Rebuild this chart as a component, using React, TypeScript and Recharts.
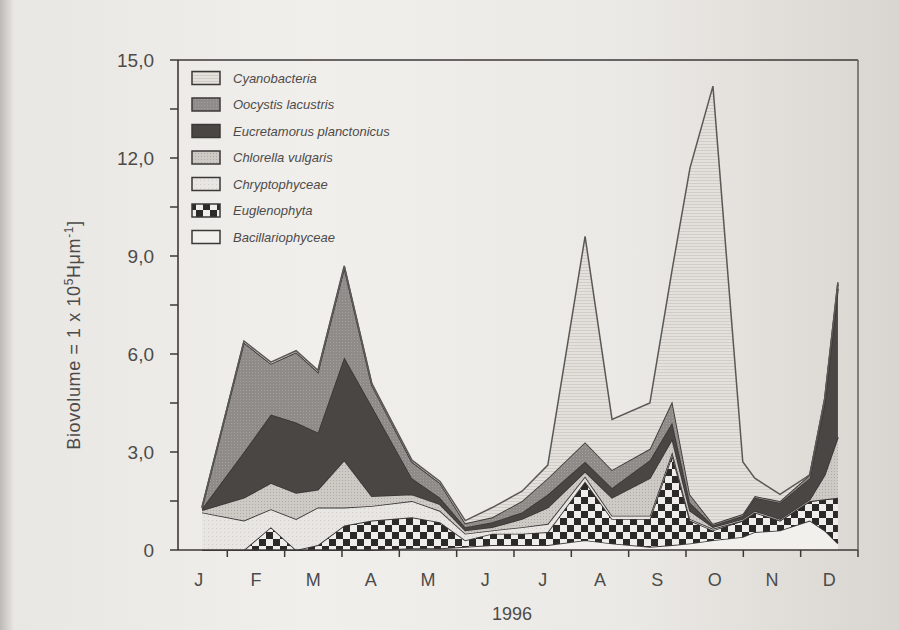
import React from 'react';
import { AreaChart, Area, XAxis, YAxis, ReferenceLine } from 'recharts';

const MONTHS = ['J', 'F', 'M', 'A', 'M', 'J', 'J', 'A', 'S', 'O', 'N', 'D'];

// sampling dates, in months from January (0 = J)
const SAMPLE_MONTH = [0.06, 0.79, 1.26, 1.7, 2.08, 2.54, 3.02, 3.72, 4.21, 4.65, 5.12, 5.64, 6.09, 6.74, 7.21, 7.87, 8.26, 8.57, 8.97, 9.49, 9.7, 10.14, 10.66, 10.92, 11.15];

// biovolume per group (stacked, bottom to top)
const BACILLARIO = [0, 0, 0, 0, 0, 0, 0, 0.05, 0.05, 0.1, 0.15, 0.15, 0.15, 0.3, 0.2, 0.1, 0.15, 0.2, 0.3, 0.4, 0.55, 0.6, 0.9, 0.6, 0.2];
const EUGLENO = [0, 0, 0.7, 0, 0.15, 0.75, 0.9, 0.95, 0.8, 0.2, 0.35, 0.35, 0.4, 1.8, 0.75, 0.85, 2.75, 0.7, 0.3, 0.5, 0.6, 0.3, 0.6, 0.95, 1.4];
const CHRYPTO = [1.15, 0.9, 0.55, 0.95, 1.15, 0.55, 0.45, 0.5, 0.35, 0.2, 0.1, 0.2, 0.25, 0.15, 0.1, 0.1, 0.1, 0.05, 0.05, 0, 0, 0, 0, 0, 0];
const CHLORELLA = [0.07, 0.7, 0.8, 0.8, 0.55, 1.45, 0.3, 0.2, 0.2, 0.1, 0.1, 0.25, 0.5, 0.15, 0.55, 1.15, 0.4, 0.25, 0.05, 0.05, 0.05, 0.05, 0.05, 0.75, 1.85];
const EUCRETAMORUS = [0.05, 1.4, 2.1, 2.15, 1.75, 3.15, 2.75, 0.5, 0.2, 0.1, 0.15, 0.2, 0.4, 0.3, 0.3, 0.55, 0.5, 0.25, 0.05, 0.1, 0.4, 0.5, 0.65, 2.2, 4.55];
const OOCYSTIS = [0.03, 3.35, 1.55, 2.15, 1.85, 2.75, 0.65, 0.5, 0.45, 0.12, 0.15, 0.35, 0.5, 0.6, 0.55, 0.35, 0.65, 0.25, 0.05, 0.05, 0.05, 0.05, 0.1, 0.1, 0.15];
const CYANO = [0, 0.05, 0.05, 0.05, 0.05, 0.05, 0.05, 0.05, 0.05, 0.08, 0.3, 0.3, 0.4, 6.3, 1.55, 1.4, 4.05, 10.0, 13.4, 1.6, 0.55, 0.2, 0, 0.05, 0.05];

const Y_TICKS = [0, 1.5, 3, 4.5, 6, 7.5, 9, 10.5, 12, 13.5, 15];
const X_TICKS = [0, 0.5, 1, 1.5, 2, 2.5, 3, 3.5, 4, 4.5, 5, 5.5, 6, 6.5, 7, 7.5, 8, 8.5, 9, 9.5, 10, 10.5, 11, 11.5];

const SERIES = [
  { key: 'bac', name: 'Bacillariophyceae', values: BACILLARIO, fill: '#f2f0ed' },
  { key: 'eug', name: 'Euglenophyta', values: EUGLENO, fill: 'url(#pChecker)' },
  { key: 'chr', name: 'Chryptophyceae', values: CHRYPTO, fill: 'url(#pChrypto)' },
  { key: 'chl', name: 'Chlorella vulgaris', values: CHLORELLA, fill: 'url(#pChlorella)' },
  { key: 'euc', name: 'Eucretamorus planctonicus', values: EUCRETAMORUS, fill: '#494644' },
  { key: 'ooc', name: 'Oocystis lacustris', values: OOCYSTIS, fill: 'url(#pOocystis)' },
  { key: 'cya', name: 'Cyanobacteria', values: CYANO, fill: 'url(#pCyano)' },
];

const data = SAMPLE_MONTH.map((m, i) => {
  const row: any = { m };
  SERIES.forEach((s) => (row[s.key] = s.values[i]));
  return row;
});

const INK = '#3b3937';
const TEXT = '#4d4b49';
const FONT = 'Liberation Sans, Arial, sans-serif';

const XTick = (props: any) => {
  const { x, y, payload } = props;
  const v = payload.value;
  if (Math.abs(v - Math.round(v)) < 1e-6) {
    return (
      <text x={x} y={y + 28} textAnchor="middle" fontSize={18} fill={TEXT} fontFamily={FONT}>
        {MONTHS[Math.round(v)]}
      </text>
    );
  }
  return <line x1={x} x2={x} y1={y - 8} y2={y - 1} stroke={INK} strokeWidth={1.5} />;
};

const fmtY = (v: number) => (v % 3 !== 0 ? '' : v === 0 ? '0' : v.toFixed(1).replace('.', ','));

export default function App() {
  const legendItems = [...SERIES].reverse();
  return (
    <div
      style={{
        position: 'absolute',
        left: 0,
        top: 0,
        width: 899,
        height: 630,
        background: 'linear-gradient(90deg, #bdbab6 0px, #e9e7e3 14px, #f1efec 35%, #ebe9e5 70%, #d9d6d1 100%)',
        overflow: 'hidden',
      }}
    >
      <AreaChart width={899} height={630} data={data} margin={{ top: 60, right: 21, bottom: 50, left: 118 }}>
        <defs>
          <pattern id="pChecker" width="14" height="14" patternUnits="userSpaceOnUse">
            <rect width="14" height="14" fill="#efede9" />
            <rect width="7" height="7" fill="#2c2a28" />
            <rect x="7" y="7" width="7" height="7" fill="#2c2a28" />
          </pattern>
          <pattern id="pCyano" width="4" height="3" patternUnits="userSpaceOnUse">
            <rect width="4" height="3" fill="#e4e1dc" />
            <line x1="0" x2="4" y1="0.5" y2="0.5" stroke="#d0ccc7" strokeWidth="1" />
          </pattern>
          <pattern id="pOocystis" width="3" height="3" patternUnits="userSpaceOnUse">
            <rect width="3" height="3" fill="#8e8b88" />
            <rect width="1" height="1" fill="#a3a09d" />
          </pattern>
          <pattern id="pChlorella" width="3" height="3" patternUnits="userSpaceOnUse">
            <rect width="3" height="3" fill="#cdcac6" />
            <rect width="1" height="1" fill="#aeaba7" />
          </pattern>
          <pattern id="pChrypto" width="4" height="4" patternUnits="userSpaceOnUse">
            <rect width="4" height="4" fill="#e8e6e2" />
            <rect width="1" height="1" fill="#d2cfcb" />
          </pattern>
        </defs>
        <XAxis
          dataKey="m"
          type="number"
          domain={[-0.36, 11.5]}
          ticks={X_TICKS}
          interval={0}
          height={30}
          tickLine={false}
          tickSize={8}
          tickMargin={0}
          tick={<XTick />}
          axisLine={{ stroke: INK, strokeWidth: 1.6 }}
          allowDataOverflow
        />
        <YAxis
          yAxisId="left"
          domain={[0, 15]}
          ticks={Y_TICKS}
          interval={0}
          width={60}
          tickSize={8}
          tickMargin={16}
          tickFormatter={fmtY}
          tick={{ fontSize: 19, fill: TEXT, fontFamily: FONT }}
          tickLine={{ stroke: INK, strokeWidth: 1.5 }}
          axisLine={{ stroke: INK, strokeWidth: 1.6 }}
        />
        <YAxis
          yAxisId="right"
          orientation="right"
          domain={[0, 15]}
          ticks={Y_TICKS}
          interval={0}
          width={20}
          tickSize={8}
          tickFormatter={() => ''}
          tickLine={{ stroke: INK, strokeWidth: 1.5 }}
          axisLine={{ stroke: '#6a6764', strokeWidth: 1.6 }}
        />
        <ReferenceLine yAxisId="left" y={15} stroke={INK} strokeWidth={1.6} />
        {SERIES.map((s) => (
          <Area
            key={s.key}
            yAxisId="left"
            type="linear"
            dataKey={s.key}
            name={s.name}
            stackId="1"
            stroke={s.key === 'cya' ? '#5a5856' : INK}
            strokeWidth={s.key === 'cya' ? 1.5 : 1.8}
            fill={s.fill}
            fillOpacity={1}
            isAnimationActive={false}
            dot={false}
            activeDot={false}
          />
        ))}
      </AreaChart>
      <svg width={899} height={630} style={{ position: 'absolute', left: 0, top: 0, pointerEvents: 'none' }}>
        {legendItems.map((s, i) => {
          const cy = 78 + i * 26.5;
          return (
            <g key={s.key}>
              <rect x={192} y={cy - 6.5} width={28} height={13} fill={s.fill} stroke={INK} strokeWidth={1.5} />
              <text x={233} y={cy + 4.5} fontSize={13} fontStyle="italic" fill={TEXT} fontFamily={FONT}>
                {s.name}
              </text>
            </g>
          );
        })}
        <text
          transform="translate(80 335) rotate(-90)"
          textAnchor="middle"
          fontSize={18}
          letterSpacing={0.6}
          fill={TEXT}
          fontFamily={FONT}
        >
          Biovolume = 1 x 10<tspan dy={-7} fontSize={12}>5</tspan>
          <tspan dy={7}>Hμm</tspan>
          <tspan dy={-7} fontSize={12}>-1</tspan>
          <tspan dy={7}>]</tspan>
        </text>
        <text x={512} y={620} textAnchor="middle" fontSize={18} fill={TEXT} fontFamily={FONT}>
          1996
        </text>
      </svg>
    </div>
  );
}
